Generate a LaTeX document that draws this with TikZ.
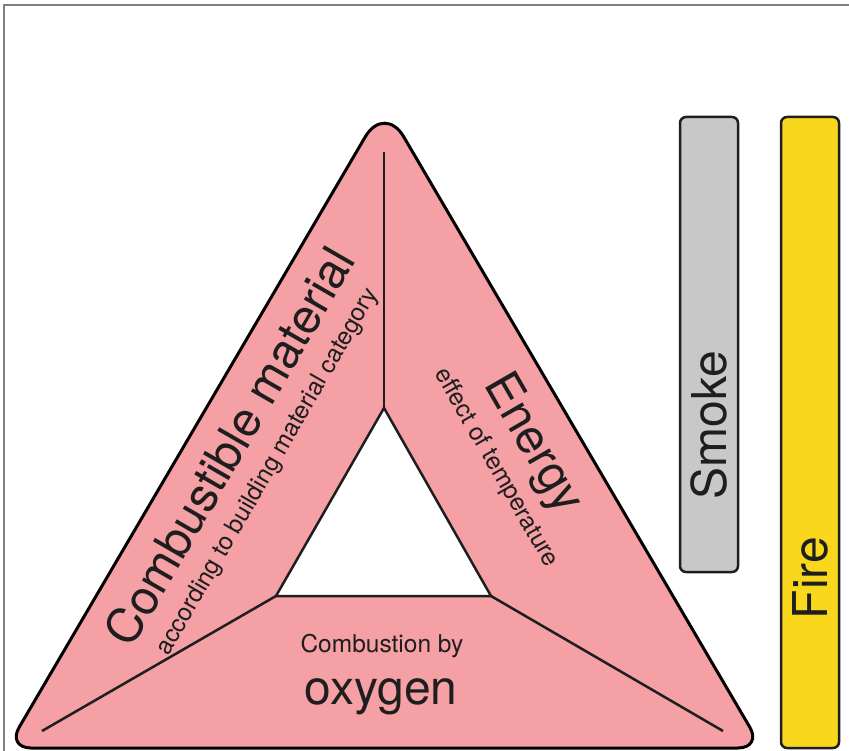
\documentclass[tikz,border=0pt]{standalone}
\usepackage{fontspec}
\setmainfont{TeX Gyre Heros}
\usepackage{xcolor}
\definecolor{pinkfill}{HTML}{F4A0A5}
\definecolor{smokegray}{HTML}{C8C8C8}
\definecolor{fireyellow}{HTML}{F9D71C}
\definecolor{framegray}{HTML}{808080}
\definecolor{inkline}{HTML}{1E1E1E}

\begin{document}
\begin{tikzpicture}[x=1pt, y=-1pt,
		bigtext/.style={font=\fontsize{48}{56}\selectfont, text=inkline, inner sep=0pt},
		smalltext/.style={font=\fontsize{24.5}{28}\selectfont, text=inkline, inner sep=0pt},
		bar/.style={draw=inkline, line width=2.5pt, rounded corners=6pt}]
		\useasboundingbox (0,0) rectangle (849,751);
		\draw[framegray, line width=2pt] (4,751) -- (4,5) -- (849,5);
		% outer triangle
		\draw[fill=pinkfill, draw=black, line width=3pt, line join=round] (384.5,748) [rounded corners=24pt] -- (7,748) [rounded corners=38pt] -- (384.5,104) [rounded corners=24pt] -- (762,748) -- cycle;
		% inner triangle and dividing lines
		\coordinate (itop) at (384,408);
		\coordinate (ileft) at (276,596);
		\coordinate (iright) at (491,596);
		\coordinate (ctop) at (384,152);
		\coordinate (cleft) at (42,731);
		\coordinate (cright) at (723,731);
		\draw[fill=white, draw=inkline, line width=2.5pt, line join=miter] (itop) -- (ileft) -- (iright) -- cycle;
		\draw[inkline, line width=2.5pt] (ctop) -- (itop);
		\draw[inkline, line width=2.5pt] (cleft) -- (ileft);
		\draw[inkline, line width=2.5pt] (iright) -- (cright);
		% labels
		\node[bigtext, rotate=60] (material) at (229,446) {Combustible material};
		\node[smalltext, rotate=60] (category) at (268,472) {according to building material category};
		\node[bigtext, rotate=-60] (energy) at (532,444) {Energy};
		\node[smalltext, rotate=-60] (temperature) at (496,468) {effect of temperature};
		\node[smalltext] (combustion) at (382,646) {Combustion by};
		\node[bigtext] (oxygen) at (381,697) {oxygen};
		% smoke and fire
		\draw[bar, fill=smokegray] (680,117) rectangle (738,572);
		\node[bigtext, rotate=90] (smoke) at (709,425) {Smoke};
		\draw[bar, fill=fireyellow] (781,117) rectangle (839,748);
		\node[bigtext, rotate=90] (fire) at (810,578) {Fire};
	\end{tikzpicture}
\end{document}
